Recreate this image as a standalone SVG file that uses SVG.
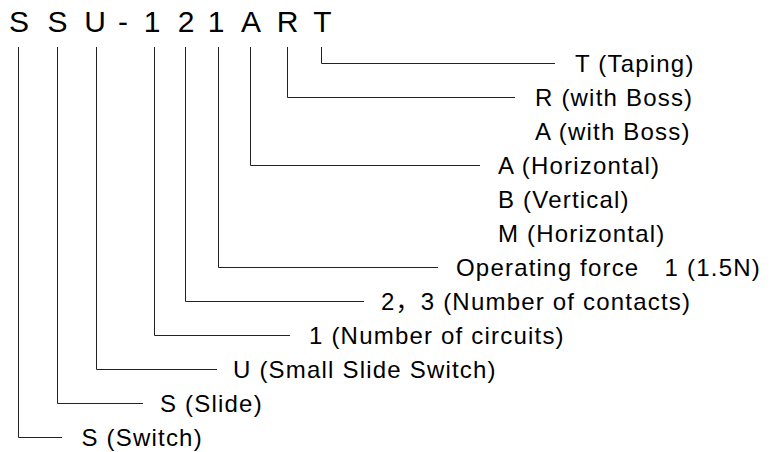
<svg xmlns="http://www.w3.org/2000/svg" width="776" height="452" viewBox="0 0 776 452">
<style>
.lbl{font-family:"Liberation Sans","Noto Sans CJK JP",Arial,sans-serif;font-size:24px;letter-spacing:1.2px;fill:#000}
.ttl{font-family:"Liberation Sans",Arial,sans-serif;font-size:30px;fill:#000;text-anchor:middle}
.con{fill:none;stroke:#222;stroke-width:1}
</style>
<rect width="776" height="452" fill="#fff"/>
<g id="title">
<text class="ttl" y="32" x="19 38 57.5 76 95 109 123 138 152 169 186 201 216 233 251 269 287.5 305 322.5">S S U - 1 2 1 A R T</text>
</g>
<g id="connectors">
<path class="con" d="M321.5,47 V63.5 H555"/>
<path class="con" d="M287.5,47 V97.5 H515"/>
<path class="con" d="M250.5,47 V165.5 H480"/>
<path class="con" d="M218.5,47 V267.5 H438"/>
<path class="con" d="M185.5,47 V301.5 H364"/>
<path class="con" d="M154.5,47 V335.5 H290"/>
<path class="con" d="M96.5,47 V369.5 H217"/>
<path class="con" d="M57.5,47 V403.5 H143"/>
<path class="con" d="M18.5,47 V437.5 H62"/>
</g>
<g id="n-taping"><text class="lbl" x="575" y="72">T (Taping)</text></g>
<g id="n-r-boss"><text class="lbl" x="535" y="106">R (with Boss)</text></g>
<g id="n-a-boss"><text class="lbl" x="535" y="140">A (with Boss)</text></g>
<g id="n-a-horizontal"><text class="lbl" x="498" y="174">A (Horizontal)</text></g>
<g id="n-b-vertical"><text class="lbl" x="498" y="208">B (Vertical)</text></g>
<g id="n-m-horizontal"><text class="lbl" x="498" y="242">M (Horizontal)</text></g>
<g id="n-force"><text class="lbl" x="456" y="276">Operating force　1 (1.5N)</text></g>
<g id="n-contacts"><text class="lbl" x="381" y="310">2，3 (Number of contacts)</text></g>
<g id="n-circuits"><text class="lbl" x="309" y="344">1 (Number of circuits)</text></g>
<g id="n-small-slide"><text class="lbl" x="233" y="378">U (Small Slide Switch)</text></g>
<g id="n-slide"><text class="lbl" x="160" y="412">S (Slide)</text></g>
<g id="n-switch"><text class="lbl" x="81.5" y="446">S (Switch)</text></g>
</svg>
